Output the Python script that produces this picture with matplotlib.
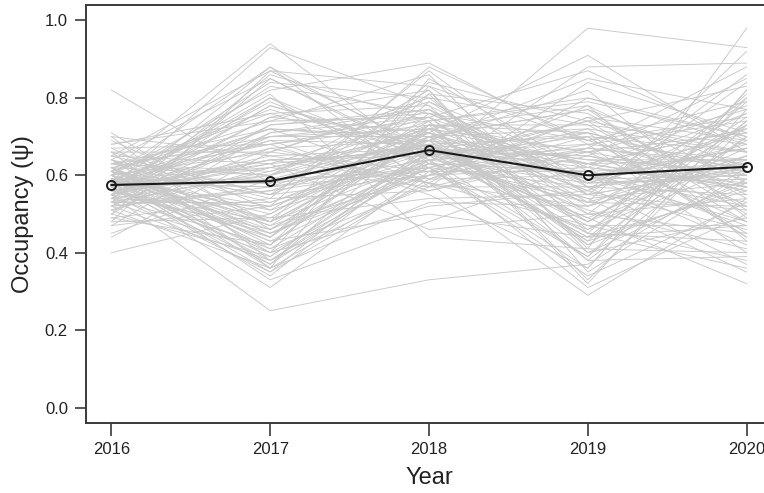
import matplotlib
matplotlib.use("Agg")
from matplotlib import pyplot as plt

plt.rcParams['font.family'] = ['Liberation Sans', 'DejaVu Sans']

years = [2016, 2017, 2018, 2019, 2020]
mean_occ = [0.575, 0.585, 0.665, 0.600, 0.622]

# posterior draws, one value per draw and year (same index = same draw)
y2016 = [0.58,0.62,0.55,0.60,0.52,0.66,0.57,0.49,0.63,0.59,
         0.54,0.61,0.56,0.68,0.51,0.58,0.64,0.53,0.60,0.47,
         0.57,0.62,0.55,0.59,0.65,0.50,0.58,0.61,0.56,0.70,
         0.53,0.60,0.57,0.63,0.48,0.59,0.55,0.67,0.52,0.58,
         0.62,0.56,0.60,0.54,0.66,0.45,0.58,0.61,0.57,0.64,
         0.51,0.59,0.55,0.62,0.82,0.53,0.60,0.57,0.69,0.50,
         0.58,0.63,0.54,0.61,0.56,0.59,0.47,0.65,0.55,0.60,
         0.52,0.58,0.62,0.57,0.40,0.61,0.54,0.66,0.59,0.56,
         0.60,0.53,0.63,0.58,0.49,0.57,0.64,0.55,0.61,0.52,
         0.59,0.56,0.68,0.54,0.60,0.57,0.62,0.50,0.58,0.65,
         0.55,0.61,0.53,0.59,0.44,0.63,0.57,0.60,0.56,0.70,
         0.52,0.58,0.62,0.55,0.59,0.48,0.64,0.57,0.61,0.54,
         0.60,0.56,0.67,0.53,0.58,0.62,0.51,0.59,0.55,0.71]
y2017 = [0.72,0.45,0.63,0.88,0.38,0.55,0.80,0.42,0.68,0.35,
         0.60,0.94,0.48,0.74,0.36,0.58,0.85,0.40,0.66,0.52,
         0.31,0.70,0.46,0.62,0.87,0.39,0.57,0.76,0.44,0.65,
         0.53,0.82,0.37,0.61,0.49,0.72,0.25,0.68,0.56,0.84,
         0.41,0.64,0.50,0.78,0.36,0.59,0.70,0.45,0.93,0.54,
         0.62,0.38,0.75,0.47,0.58,0.86,0.43,0.67,0.51,0.73,
         0.34,0.60,0.80,0.48,0.65,0.40,0.71,0.55,0.88,0.44,
         0.57,0.69,0.37,0.63,0.50,0.77,0.42,0.66,0.59,0.83,
         0.46,0.61,0.72,0.39,0.54,0.79,0.48,0.64,0.36,0.70,
         0.58,0.45,0.76,0.52,0.68,0.41,0.60,0.85,0.49,0.63,
         0.35,0.74,0.56,0.43,0.66,0.53,0.81,0.47,0.62,0.38,
         0.71,0.57,0.44,0.69,0.51,0.87,0.40,0.64,0.55,0.75,
         0.33,0.60,0.48,0.73,0.58,0.42,0.67,0.52,0.78,0.46]
y2018 = [0.70,0.62,0.75,0.66,0.58,0.81,0.64,0.72,0.55,0.68,
         0.77,0.63,0.69,0.86,0.60,0.73,0.65,0.52,0.79,0.67,
         0.61,0.74,0.70,0.57,0.83,0.66,0.71,0.63,0.76,0.59,
         0.68,0.89,0.64,0.72,0.54,0.69,0.33,0.75,0.62,0.80,
         0.66,0.58,0.73,0.67,0.85,0.61,0.70,0.64,0.78,0.56,
         0.71,0.65,0.82,0.60,0.68,0.74,0.50,0.69,0.63,0.77,
         0.66,0.72,0.59,0.84,0.67,0.62,0.75,0.70,0.57,0.79,
         0.64,0.68,0.73,0.46,0.71,0.65,0.81,0.61,0.69,0.76,
         0.63,0.74,0.58,0.67,0.87,0.62,0.70,0.66,0.53,0.72,
         0.68,0.60,0.78,0.65,0.73,0.57,0.82,0.64,0.71,0.67,
         0.59,0.75,0.69,0.62,0.80,0.66,0.44,0.72,0.68,0.63,
         0.77,0.61,0.70,0.56,0.74,0.67,0.83,0.65,0.60,0.71,
         0.48,0.69,0.64,0.76,0.62,0.73,0.58,0.88,0.66,0.70]
y2019 = [0.55,0.72,0.48,0.63,0.80,0.41,0.66,0.58,0.36,0.70,
         0.52,0.61,0.85,0.45,0.67,0.38,0.74,0.56,0.62,0.49,
         0.78,0.33,0.64,0.57,0.69,0.44,0.91,0.53,0.60,0.75,
         0.47,0.68,0.39,0.63,0.55,0.82,0.37,0.59,0.71,0.50,
         0.65,0.29,0.73,0.54,0.61,0.46,0.77,0.58,0.42,0.67,
         0.56,0.70,0.35,0.62,0.51,0.79,0.44,0.64,0.98,0.53,
         0.68,0.40,0.60,0.74,0.48,0.57,0.87,0.43,0.66,0.55,
         0.31,0.63,0.71,0.50,0.59,0.45,0.76,0.61,0.38,0.69,
         0.54,0.80,0.47,0.65,0.57,0.34,0.72,0.60,0.52,0.66,
         0.43,0.75,0.58,0.49,0.63,0.84,0.40,0.67,0.56,0.62,
         0.70,0.46,0.59,0.36,0.73,0.53,0.41,0.78,0.48,0.61,
         0.57,0.68,0.42,0.65,0.32,0.71,0.55,0.60,0.88,0.50,
         0.63,0.45,0.74,0.58,0.39,0.66,0.52,0.69,0.44,0.77]
y2020 = [0.62,0.48,0.75,0.56,0.68,0.40,0.71,0.59,0.82,0.45,
         0.65,0.53,0.77,0.36,0.63,0.70,0.50,0.86,0.58,0.67,
         0.43,0.73,0.61,0.55,0.79,0.47,0.66,0.92,0.52,0.69,
         0.38,0.64,0.74,0.57,0.84,0.49,0.62,0.71,0.44,0.80,
         0.60,0.54,0.68,0.35,0.76,0.63,0.51,0.72,0.58,0.88,
         0.46,0.66,0.61,0.78,0.41,0.70,0.56,0.64,0.93,0.52,
         0.74,0.59,0.48,0.83,0.65,0.37,0.69,0.57,0.77,0.62,
         0.50,0.72,0.60,0.45,0.67,0.81,0.54,0.63,0.39,0.75,
         0.58,0.70,0.47,0.85,0.61,0.53,0.66,0.42,0.73,0.59,
         0.79,0.55,0.68,0.32,0.64,0.71,0.49,0.62,0.76,0.57,
         0.44,0.69,0.60,0.82,0.52,0.65,0.98,0.58,0.73,0.47,
         0.63,0.40,0.70,0.56,0.77,0.61,0.51,0.67,0.89,0.54,
         0.72,0.43,0.66,0.60,0.80,0.48,0.64,0.57,0.74,0.62]

fig = plt.figure(figsize=(7.64, 4.93), dpi=100)
ax = fig.add_axes([86/764, 70/493, 686/764, 418/493])

for draw in zip(y2016, y2017, y2018, y2019, y2020):
    ax.plot(years, draw, color='#c8c8c8', lw=0.65, zorder=1)

ax.plot(years, mean_occ, color='#1a1a1a', lw=1.5, marker='o', ms=6.5,
        mfc='none', mec='#1a1a1a', mew=1.4, zorder=3)

ax.set_xlim(2015.84, 2020.16)
ax.set_ylim(-0.04, 1.04)
ax.set_xticks(years)
ax.set_xticklabels([str(y) for y in years])
ax.set_yticks([0.0, 0.2, 0.4, 0.6, 0.8, 1.0])
ax.set_yticklabels(['0.0', '0.2', '0.4', '0.6', '0.8', '1.0'])

for s in ['left', 'bottom', 'top', 'right']:
    ax.spines[s].set_color('#3a3a3a')
    ax.spines[s].set_linewidth(1.4)

ax.tick_params(axis='x', length=9, width=1.2, color='#3a3a3a', labelsize=12,
               labelcolor='#222222', pad=5)
ax.tick_params(axis='y', length=8, width=1.2, color='#3a3a3a', labelsize=12,
               labelcolor='#222222', pad=5)

ax.set_xlabel('Year', fontsize=17, color='#222222', labelpad=7)
ax.set_ylabel('Occupancy (\u03c8)', fontsize=17, color='#222222', labelpad=8)

fig.savefig('out.png', dpi=100)
